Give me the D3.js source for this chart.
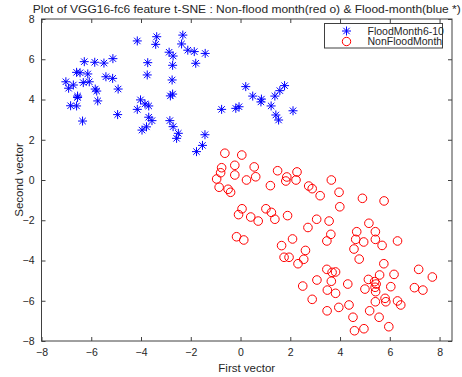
<!DOCTYPE html>
<html>
<head>
<meta charset="utf-8">
<script src="https://cdn.jsdelivr.net/npm/d3@7"></script>
<style>
  body { margin: 0; background: #fff; }
  svg text { font-family: "Liberation Sans", Arial, sans-serif; fill: #262626; }
</style>
</head>
<body>
<svg id="chart" width="462" height="377"></svg>
<script>
// blue * : flood months 6-10
var floodX = [-4.15, -3.37, -3.41, -2.32, -2.37, -2.12, -2.87, -2.71, -2.73, -3.73, -3.75, -5.13, -5.49, -5.86,
  -6.28, -6.59, -6.45, -6.14, -7.02, -6.72, -6.91, -6.32, -6.08, -5.41, -5.14, -4.92, -5.84, -5.78, -6.55,
  -6.55, -5.74, -6.83, -6.59, -4.94, -6.35, -2.75, -2.73, -2.82, -4.02, -4.15, -3.84, -3.69, -3.69, -3.56,
  -2.84, -2.71, -3.96, -3.78, -2.50, -2.57, -1.43, -1.53, -1.77, -1.86, -1.42, -1.80, 0.21, 0.49, 0.84,
  0.82, 1.38, 1.58, 1.77, 1.23, 1.42, 1.53, 2.11, -0.76, -0.19, -0.06];
var floodY = [6.91, 7.12, 6.74, 7.20, 6.76, 6.45, 6.35, 6.16, 5.70, 5.83, 5.22, 6.03, 5.81, 5.85,
  5.88, 5.35, 5.33, 5.27, 4.88, 4.72, 4.56, 4.84, 4.88, 5.13, 5.05, 4.52, 4.52, 4.42, 4.17,
  4.10, 3.93, 3.69, 3.68, 3.25, 2.93, 4.97, 4.27, 4.18, 3.98, 3.51, 3.78, 3.68, 3.12, 2.95,
  2.95, 2.65, 2.48, 2.64, 2.32, 2.07, 2.25, 1.72, 1.41, 6.38, 6.29, 5.80, 4.64, 4.17, 4.02,
  3.88, 4.17, 4.44, 4.69, 3.68, 3.23, 2.98, 3.44, 3.51, 3.56, 3.64];

// red o : non-flood months
var nonFloodX = [-0.63, 0.05, -0.76, -0.80, -0.96, -0.23, 0.55, -0.23, 0.24, 0.61, -0.86, -0.50, -0.40, 1.20,
  1.49, 1.86, 1.82, 2.27, 2.23, 2.74, 2.88, 3.20, 0.06, -0.08, 0.41, 0.71, 1.02, 1.24, 1.38, 1.89, 3.06,
  2.71, -0.16, 0.13, 2.09, 1.65, 2.61, 1.75, 1.95, 2.31, 2.50, 3.65, 3.96, 4.90, 5.77, 3.99, 3.56, 3.63,
  3.47, 5.16, 4.67, 5.42, 4.63, 4.95, 5.42, 6.31, 5.69, 4.56, 2.54, 4.77, 5.76, 3.47, 3.68, 3.82, 3.07,
  3.65, 4.31, 3.49, 3.82, 2.88, 5.14, 5.39, 5.59, 6.17, 7.16, 7.71, 6.99, 7.33, 5.00, 5.43, 5.41, 5.45,
  6.04, 5.81, 5.84, 6.31, 6.44, 5.42, 4.36, 3.95, 3.48, 5.19, 5.57, 4.52, 5.96, 4.96, 4.58];
var nonFloodY = [1.33, 1.24, 0.61, 0.36, 0.05, 0.73, 0.65, 0.25, 0.00, 0.16, -0.36, -0.46, -0.61, -0.28,
  0.46, 0.15, -0.05, 0.40, 0.00, -0.30, -0.43, -0.78, -1.43, -1.72, -1.84, -2.04, -1.43, -1.61, -1.95, -1.77, -1.95,
  -2.36, -2.82, -2.98, -2.93, -3.26, -3.50, -3.84, -3.84, -4.16, -5.27, 0.00, -0.61, -0.91, -1.04, -1.33, -2.04, -2.70,
  -3.03, -2.15, -2.57, -2.57, -2.95, -3.08, -2.95, -3.03, -3.25, -3.43, -3.94, -3.93, -4.16, -4.44, -4.59, -4.57, -4.97,
  -5.03, -5.17, -5.47, -5.63, -5.93, -4.94, -5.05, -4.72, -4.69, -4.44, -4.82, -5.35, -5.47, -5.42, -5.55, -5.33, -5.17,
  -5.30, -5.88, -6.05, -6.01, -6.21, -6.05, -6.21, -6.33, -6.50, -6.50, -6.82, -6.82, -7.29, -7.39, -7.49];

var xTicks = [-8, -6, -4, -2, 0, 2, 4, 6, 8];
var yTicks = [-8, -6, -4, -2, 0, 2, 4, 6, 8];
var seriesNames = ["FloodMonth6-10", "NonFloodMonth"];
var titleText = "Plot of VGG16-fc6 feature t-SNE : Non-flood month(red o) & Flood-month(blue *)";

var svg = d3.select("#chart"),
    box = { left: 41.5, right: 452, top: 19, bottom: 341 };

var x = d3.scaleLinear().domain([-8, 8.5]).range([box.left, box.right]);
var y = d3.scaleLinear().domain([-8, 8]).range([box.bottom, box.top]);
var axisColor = "#404040";
var fmt = function (v) { return v < 0 ? "\u2212" + Math.abs(v) : "" + v; };

// markers
var plot = svg.append("g");

plot.selectAll("circle.nf")
    .data(nonFloodX.map(function (d, i) { return [d, nonFloodY[i]]; }))
    .enter().append("circle")
    .attr("class", "nf")
    .attr("cx", function (d) { return x(d[0]); })
    .attr("cy", function (d) { return y(d[1]); })
    .attr("r", 4.3)
    .attr("fill", "none")
    .attr("stroke", "#ff0000")
    .attr("stroke-width", 1);

function asterisk(sel) {
    var a = 4.5, b = 3.2;
    sel.append("path")
        .attr("d", "M" + (-a) + ",0H" + a + "M0," + (-a) + "V" + a +
            "M" + (-b) + "," + (-b) + "L" + b + "," + b + "M" + (-b) + "," + b + "L" + b + "," + (-b))
        .attr("stroke", "#0000ff")
        .attr("stroke-width", 1)
        .attr("fill", "none");
}

plot.selectAll("g.fl")
    .data(floodX.map(function (d, i) { return [d, floodY[i]]; }))
    .enter().append("g")
    .attr("class", "fl")
    .attr("transform", function (d) { return "translate(" + x(d[0]) + "," + y(d[1]) + ")"; })
    .call(asterisk);

// axes box with inward ticks
var ax = svg.append("g");
ax.append("rect")
    .attr("x", box.left).attr("y", box.top)
    .attr("width", box.right - box.left).attr("height", box.bottom - box.top)
    .attr("fill", "none").attr("stroke", axisColor).attr("stroke-width", 1);

ax.append("g").attr("transform", "translate(0," + box.bottom + ")")
    .call(d3.axisBottom(x).tickValues(xTicks).tickSizeInner(-4).tickSizeOuter(0).tickPadding(8).tickFormat(fmt));
ax.append("g").attr("transform", "translate(0," + box.top + ")")
    .call(d3.axisTop(x).tickValues(xTicks).tickSizeInner(-4).tickSizeOuter(0).tickFormat(""));
ax.append("g").attr("transform", "translate(" + box.left + ",0)")
    .call(d3.axisLeft(y).tickValues(yTicks).tickSizeInner(-4).tickSizeOuter(0).tickPadding(7).tickFormat(fmt));
ax.append("g").attr("transform", "translate(" + box.right + ",0)")
    .call(d3.axisRight(y).tickValues(yTicks).tickSizeInner(-4).tickSizeOuter(0).tickFormat(""));

ax.selectAll(".domain").remove();
ax.selectAll(".tick line").attr("stroke", axisColor);
ax.selectAll(".tick text")
    .attr("font-size", "10.5px")
    .attr("font-family", "\"Liberation Sans\", Arial, sans-serif")
    .attr("fill", "#333");

// titles
svg.append("text")
    .attr("x", (box.left + box.right) / 2).attr("y", 13)
    .attr("text-anchor", "middle")
    .attr("font-size", "11px")
    .attr("textLength", 428)
    .attr("lengthAdjust", "spacingAndGlyphs")
    .attr("fill", "#111")
    .text(titleText);

svg.append("text")
    .attr("x", (box.left + box.right) / 2).attr("y", 372)
    .attr("text-anchor", "middle")
    .attr("font-size", "11.5px")
    .text("First vector");

svg.append("text")
    .attr("transform", "translate(23," + (box.top + box.bottom) / 2 + ") rotate(-90)")
    .attr("text-anchor", "middle")
    .attr("font-size", "11.5px")
    .text("Second vector");

// legend
var lg = svg.append("g").attr("transform", "translate(324.5,23.5)");
lg.append("rect")
    .attr("width", 118).attr("height", 24.5)
    .attr("fill", "#fff").attr("stroke", axisColor).attr("stroke-width", 1);
var rows = lg.selectAll("g.row").data(seriesNames).enter().append("g")
    .attr("class", "row")
    .attr("transform", function (d, i) { return "translate(0," + (7.5 + i * 10.5) + ")"; });
rows.filter(function (d, i) { return i === 0; })
    .append("g").attr("transform", "translate(22,0)").call(asterisk);
rows.filter(function (d, i) { return i === 1; })
    .append("circle").attr("cx", 22).attr("r", 4.2)
    .attr("fill", "none").attr("stroke", "#ff0000");
rows.append("text")
    .attr("x", 43).attr("y", 3.8)
    .attr("font-size", "10.5px")
    .attr("fill", "#111")
    .text(function (d) { return d; });
</script>
</body>
</html>
